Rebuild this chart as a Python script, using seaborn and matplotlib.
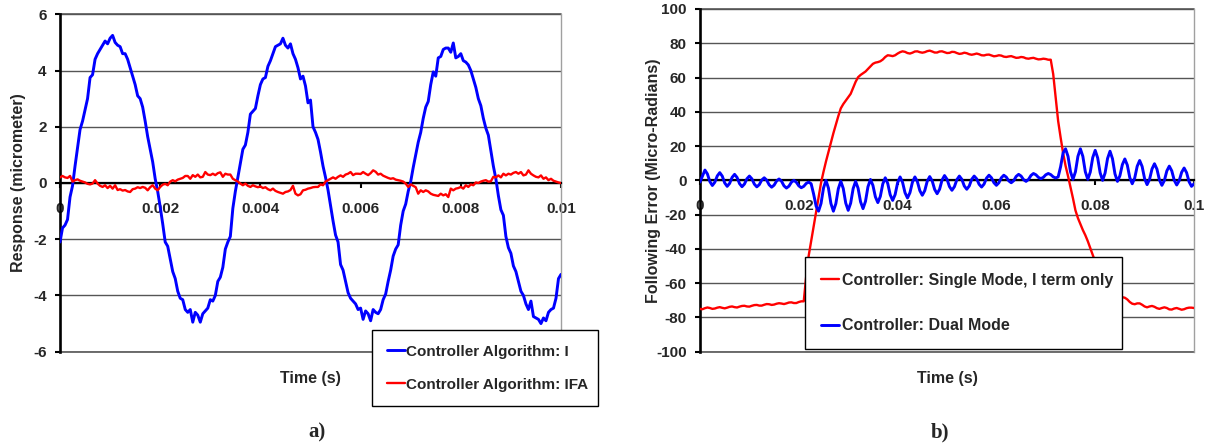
import numpy as np
import pandas as pd
import matplotlib
matplotlib.use("Agg")
import matplotlib.pyplot as plt
import seaborn as sns

# ---------------- data ----------------
# panel a: response over 10 ms, sampled every 0.05 ms
t_a = np.linspace(0.0, 0.01, 201)
resp_I = [
    -2.1, -1.6, -1.5, -1.3, -0.5, -0.1, 0.6, 1.25, 1.9, 2.2, 2.6, 3.0, 3.75, 3.85, 4.4, 4.6, 4.75, 4.9, 5.05, 4.95,
    5.15, 5.25, 5.0, 4.9, 4.85, 4.6, 4.6, 4.4, 4.1, 3.8, 3.5, 3.1, 3.0, 2.7, 2.2, 1.65, 1.2, 0.75, 0.15, -0.3,
    -0.85, -1.45, -2.1, -2.25, -2.7, -3.15, -3.4, -3.85, -4.1, -4.15, -4.5, -4.6, -4.5, -4.95, -4.6, -4.7, -4.95, -4.65, -4.55, -4.45,
    -4.15, -4.2, -4.0, -3.5, -3.35, -3.0, -2.35, -2.1, -1.9, -0.9, -0.3, 0.2, 0.7, 1.2, 1.35, 1.8, 2.45, 2.55, 2.65, 3.1,
    3.5, 3.7, 3.75, 4.15, 4.35, 4.6, 4.85, 4.9, 4.95, 5.15, 4.9, 4.8, 4.95, 4.6, 4.4, 4.1, 3.7, 3.8, 3.45, 2.85,
    2.95, 2.0, 1.8, 1.55, 1.1, 0.6, 0.2, -0.25, -0.8, -1.35, -1.85, -2.1, -2.9, -3.1, -3.5, -3.9, -4.1, -4.2, -4.3, -4.5,
    -4.45, -4.85, -4.55, -4.65, -4.9, -4.5, -4.6, -4.65, -4.5, -4.15, -3.95, -3.5, -3.1, -2.6, -2.35, -2.2, -1.5, -1.0, -0.75, -0.3,
    0.05, 0.55, 1.0, 1.45, 1.8, 2.3, 2.7, 2.9, 3.5, 3.95, 3.8, 4.45, 4.5, 4.75, 4.8, 4.8, 4.65, 4.98, 4.45, 4.5,
    4.6, 4.35, 4.3, 4.2, 4.0, 3.7, 3.4, 3.0, 2.75, 2.3, 1.95, 1.7, 1.15, 0.6, 0.15, -0.45, -0.95, -1.15, -1.9, -2.3,
    -2.5, -2.95, -3.15, -3.5, -3.85, -4.0, -4.3, -4.5, -4.2, -4.75, -4.8, -4.85, -5.0, -4.8, -4.9, -4.6, -4.5, -4.45, -4.1, -3.4,
    -3.25,
]
resp_IFA = [
    0.20, 0.25, 0.20, 0.18, 0.25, 0.05, 0.10, 0.13, 0.08, 0.05, 0.02, -0.03, -0.05, -0.02, 0.10, -0.02, -0.10, -0.14, -0.08, -0.18,
    -0.10, -0.20, -0.08, -0.25, -0.22, -0.27, -0.25, -0.30, -0.32, -0.22, -0.20, -0.15, -0.18, -0.14, -0.17, -0.26, -0.15, -0.08, -0.20, -0.26,
    -0.14, -0.06, -0.03, -0.08, 0.05, 0.10, 0.06, 0.12, 0.15, 0.18, 0.25, 0.25, 0.15, 0.28, 0.22, 0.30, 0.20, 0.22, 0.39, 0.30,
    0.28, 0.33, 0.28, 0.35, 0.38, 0.22, 0.33, 0.30, 0.30, 0.15, 0.10, 0.05, -0.02, -0.08, -0.02, -0.10, -0.14, -0.08, -0.12, -0.15,
    -0.12, -0.18, -0.15, -0.22, -0.26, -0.20, -0.28, -0.32, -0.35, -0.38, -0.32, -0.30, -0.25, -0.10, -0.38, -0.44, -0.40, -0.26, -0.24, -0.20,
    -0.18, -0.15, -0.14, -0.14, -0.05, -0.08, 0.05, 0.10, 0.15, 0.20, 0.15, 0.22, 0.27, 0.22, 0.30, 0.33, 0.39, 0.28, 0.33, 0.33,
    0.32, 0.39, 0.33, 0.28, 0.35, 0.45, 0.40, 0.30, 0.33, 0.26, 0.22, 0.18, 0.15, 0.17, 0.12, 0.10, 0.08, 0.05, -0.02, -0.14,
    -0.05, -0.10, -0.15, -0.38, -0.26, -0.32, -0.26, -0.30, -0.38, -0.42, -0.44, -0.46, -0.38, -0.44, -0.40, -0.50, -0.20, -0.26, -0.20, -0.18,
    -0.14, -0.20, -0.08, -0.14, -0.05, -0.08, 0.02, 0.00, 0.05, 0.08, 0.10, 0.05, 0.06, 0.22, 0.20, 0.27, 0.20, 0.33, 0.27, 0.33,
    0.30, 0.36, 0.39, 0.33, 0.39, 0.27, 0.30, 0.45, 0.33, 0.27, 0.22, 0.20, 0.27, 0.15, 0.20, 0.10, 0.15, 0.08, 0.05, 0.02,
    0.00,
]

# panel b: following error over 100 ms, sampled every 0.5 ms
t_b = np.linspace(0.0, 0.1, 201)
err_single = [
    -75.0, -75.2, -74.6, -74.2, -74.5, -75.0, -74.8, -74.3, -74.0, -74.4,
    -74.7, -74.3, -73.8, -73.6, -74.0, -74.2, -73.7, -73.3, -73.2, -73.6,
    -73.7, -73.2, -72.8, -72.7, -73.1, -73.1, -72.6, -72.2, -72.3, -72.7,
    -72.5, -72.0, -71.7, -71.9, -72.2, -71.8, -71.3, -71.2, -71.6, -71.6,
    -71.0, -70.6, -70.6, -56.0, -44.0, -35.5, -27.0, -18.5, -10.0, -1.5,
    5.0, 11.0, 16.5, 22.0, 27.5, 32.5, 37.5, 42.0, 44.5, 46.5,
    48.5, 50.5, 54.0, 57.5, 60.2, 61.5, 62.5, 63.5, 65.0, 66.5,
    68.0, 68.7, 69.0, 69.5, 70.5, 72.0, 73.0, 72.8, 72.5, 73.0,
    74.0, 74.8, 75.3, 75.0, 74.3, 74.0, 74.5, 75.2, 75.3, 74.8,
    74.5, 74.8, 75.4, 75.7, 75.2, 74.6, 74.6, 75.2, 75.3, 74.8,
    74.3, 74.4, 75.0, 74.9, 74.3, 73.8, 74.0, 74.5, 74.2, 73.6,
    73.3, 73.6, 74.0, 73.6, 73.0, 72.9, 73.3, 73.4, 72.9, 72.4,
    72.6, 73.0, 72.8, 72.2, 72.0, 72.3, 72.5, 72.0, 71.5, 71.6,
    72.0, 71.8, 71.2, 71.0, 71.3, 71.5, 71.0, 70.6, 70.7, 71.0,
    70.8, 70.4, 70.4, 62.0, 48.5, 34.6, 25.0, 16.0, 8.5, 2.5,
    -4.0, -10.5, -17.5, -22.0, -25.5, -29.0, -32.0, -35.5, -39.5, -43.5,
    -47.5, -51.0, -54.0, -57.0, -59.5, -61.5, -63.0, -64.5, -65.5, -66.5,
    -67.5, -68.2, -68.5, -69.5, -71.0, -72.0, -72.3, -71.8, -71.8, -72.6,
    -73.6, -74.1, -73.6, -73.3, -73.8, -74.6, -75.0, -74.5, -74.1, -74.5,
    -75.3, -75.4, -74.8, -74.5, -75.0, -75.5, -75.2, -74.6, -74.3, -74.3,
    -74.5,
]
err_dual = [
    -1.0, 2.5, 6.0, 3.75, -0.75, -3.0, -1.1, 2.6, 4.5, 2.5,
    -1.5, -3.5, -1.75, 1.75, 3.5, 1.7, -1.9, -3.7, -2.15, 0.95,
    2.5, 0.9, -2.2, -3.8, -2.5, 0.2, 1.5, 0.1, -2.6, -4.0,
    -2.8, -0.4, 0.8, -0.5, -3.2, -4.5, -3.4, -1.1, 0.0, -1.1,
    -3.2, -4.3, -3.5, -1.8, -1.0, -2.0, -8.0, -15.0, -18.0, -13.5,
    -4.5, 0.0, -4.5, -13.5, -18.0, -13.6, -4.9, -0.5, -4.75, -13.25,
    -17.5, -13.3, -4.8, -0.6, -4.6, -12.5, -16.5, -12.25, -3.75, 0.5,
    -2.9, -9.6, -13.0, -9.4, -2.1, 1.5, -1.8, -8.4, -11.7, -8.3,
    -1.4, 2.0, -1.1, -7.2, -10.3, -7.2, -1.1, 2.0, -0.7, -6.0,
    -8.7, -6.0, -0.5, 2.2, -0.3, -5.3, -7.8, -5.2, 0.2, 2.8,
    0.65, -3.65, -5.8, -3.7, 0.4, 2.5, 0.6, -3.3, -5.2, -3.3,
    0.6, 2.5, 0.9, -2.3, -3.9, -2.2, 1.3, 3.0, 1.5, -1.4,
    -2.9, -1.4, 1.5, 3.0, 1.9, -0.3, -1.4, -0.2, 2.3, 3.5,
    2.5, 0.4, -0.6, 0.55, 2.85, 4.0, 3.25, 1.75, 1.0, 1.75,
    3.25, 4.0, 3.35, 2.05, 1.4, 2.0, 8.0, 16.0, 18.4, 14.0,
    5.0, 0.6, 5.0, 14.0, 18.4, 14.0, 5.0, 0.6, 4.8, 13.3,
    17.5, 13.1, 4.4, 0.0, 4.25, 12.75, 17.0, 12.6, 3.8, -0.6,
    2.7, 9.2, 12.5, 8.9, 1.6, -2.0, 1.4, 8.2, 11.6, 8.1,
    1.0, -2.5, 0.55, 6.65, 9.7, 6.55, 0.25, -2.9, -0.1, 5.5,
    8.3, 5.55, 0.05, -2.7, -0.2, 4.7, 7.2, 4.5, -0.8, -3.5,
    -2.0,
]

xticks_a = [0, 0.002, 0.004, 0.006, 0.008, 0.01]
xticklabels_a = ["0", "0.002", "0.004", "0.006", "0.008", "0.01"]
yticks_a = [-6, -4, -2, 0, 2, 4, 6]
xticks_b = [0, 0.02, 0.04, 0.06, 0.08, 0.1]
xticklabels_b = ["0", "0.02", "0.04", "0.06", "0.08", "0.1"]
yticks_b = [-100, -80, -60, -40, -20, 0, 20, 40, 60, 80, 100]

labels_a = ["Controller Algorithm: I", "Controller Algorithm: IFA"]
labels_b = ["Controller: Single Mode, I term only", "Controller: Dual Mode"]

# ---------------- style ----------------
sns.set_theme(style="white")
plt.rcParams["font.family"] = ["Liberation Sans", "DejaVu Sans"]
plt.rcParams["font.weight"] = "bold"
plt.rcParams["axes.labelweight"] = "bold"
plt.rcParams["axes.unicode_minus"] = False

BLUE = "#0000FF"
RED = "#FF0000"
GRID = "#555555"
W, H = 1207, 444

fig = plt.figure(figsize=(W / 100, H / 100), dpi=100)
ax1 = fig.add_axes([60 / W, 1 - 351.7 / H, 501 / W, 337.4 / H])
ax2 = fig.add_axes([700 / W, 1 - 351.7 / H, 494 / W, 342.7 / H])


def style_axes(ax, xticks, xticklabels, yticks, xlim, ylim):
    ax.set_xlim(*xlim)
    ax.set_ylim(*ylim)
    ax.set_xticks(xticks)
    ax.set_xticklabels(xticklabels)
    ax.set_yticks(yticks)
    ax.yaxis.grid(True, color=GRID, linewidth=1.0)
    ax.xaxis.grid(False)
    ax.set_axisbelow(True)
    # plot-area frame: gray lines along the top and bottom limits
    for yv in ylim:
        ax.axhline(yv, color=GRID, linewidth=1.2, clip_on=False, zorder=1)
    ax.spines["bottom"].set_position(("data", 0))
    ax.spines["bottom"].set_color("black")
    ax.spines["bottom"].set_linewidth(1.6)
    ax.spines["left"].set_color("black")
    ax.spines["left"].set_linewidth(1.9)
    ax.spines["top"].set_visible(False)
    ax.spines["right"].set_color("#a0a0a0")
    ax.spines["right"].set_linewidth(1.0)
    for s in ax.spines.values():
        s.set_zorder(2.5)
    ax.tick_params(axis="y", direction="out", length=3.6, width=1.5, pad=6,
                   labelsize=11, left=True, color="black")
    ax.tick_params(axis="x", direction="out", length=3.6, width=1.5, pad=10,
                   labelsize=11, bottom=True, color="black")
    for lab in ax.get_xticklabels() + ax.get_yticklabels():
        lab.set_fontweight("bold")


# ---------------- panel a ----------------
df_a = pd.DataFrame({"t": t_a, "I": resp_I, "IFA": resp_IFA})
sns.lineplot(data=df_a, x="t", y="I", ax=ax1, color=BLUE, linewidth=2.1,
             sort=False, legend=False, zorder=3)
sns.lineplot(data=df_a, x="t", y="IFA", ax=ax1, color=RED, linewidth=1.7,
             sort=False, legend=False, zorder=3.1)
style_axes(ax1, xticks_a, xticklabels_a, yticks_a, (0, 0.01), (-6, 6))
ax1.set_xlabel("Time (s)", fontsize=11.5, fontweight="bold")
ax1.set_ylabel("Response (micrometer)", fontsize=11.5, fontweight="bold")
ax1.xaxis.set_label_coords(0.5, -0.056)
ax1.yaxis.set_label_coords(-0.068, 0.5)

leg1 = ax1.legend(handles=list(ax1.lines[:2]), labels=labels_a,
                  loc="upper left",
                  bbox_to_anchor=(372 / W, 1 - 403 / H, 226 / W, 73 / H),
                  bbox_transform=fig.transFigure, mode="expand",
                  frameon=True, fancybox=False, framealpha=1,
                  edgecolor="black", borderpad=0.95, labelspacing=1.25,
                  handlelength=1.2, handletextpad=0.1, borderaxespad=0,
                  prop={"size": 11, "weight": "bold"})
leg1.get_frame().set_linewidth(1.0)
leg1.set_zorder(5)

# ---------------- panel b ----------------
df_b = pd.DataFrame({"t": t_b, "single": err_single, "dual": err_dual})
sns.lineplot(data=df_b, x="t", y="single", ax=ax2, color=RED, linewidth=1.7,
             sort=False, legend=False, zorder=3)
sns.lineplot(data=df_b, x="t", y="dual", ax=ax2, color=BLUE, linewidth=2.1,
             sort=False, legend=False, zorder=3.1)
style_axes(ax2, xticks_b, xticklabels_b, yticks_b, (0, 0.1), (-100, 100))
ax2.set_xlabel("Time (s)", fontsize=11.5, fontweight="bold")
ax2.set_ylabel("Following Error (Micro-Radians)", fontsize=11.5, fontweight="bold")
ax2.xaxis.set_label_coords(0.5, -0.055)
ax2.yaxis.set_label_coords(-0.079, 0.5)

leg2 = ax2.legend(handles=list(ax2.lines[:2]), labels=labels_b,
                  loc="upper left",
                  bbox_to_anchor=(805 / W, 1 - 348 / H, 317 / W, 91 / H),
                  bbox_transform=fig.transFigure, mode="expand",
                  frameon=True, fancybox=False, framealpha=1,
                  edgecolor="black", borderpad=1.0, labelspacing=1.9,
                  handlelength=1.1, handletextpad=0.2, borderaxespad=0,
                  prop={"size": 11.5, "weight": "bold"})
leg2.get_frame().set_linewidth(1.0)
leg2.set_zorder(5)

# ---------------- panel captions ----------------
fig.text(317 / W, 1 - 432 / H, "a)", ha="center", va="center",
         family=["Liberation Serif", "DejaVu Serif"], fontweight="bold", fontsize=15)
fig.text(940 / W, 1 - 432 / H, "b)", ha="center", va="center",
         family=["Liberation Serif", "DejaVu Serif"], fontweight="bold", fontsize=15)

fig.savefig("out.png", dpi=100, facecolor="white")
